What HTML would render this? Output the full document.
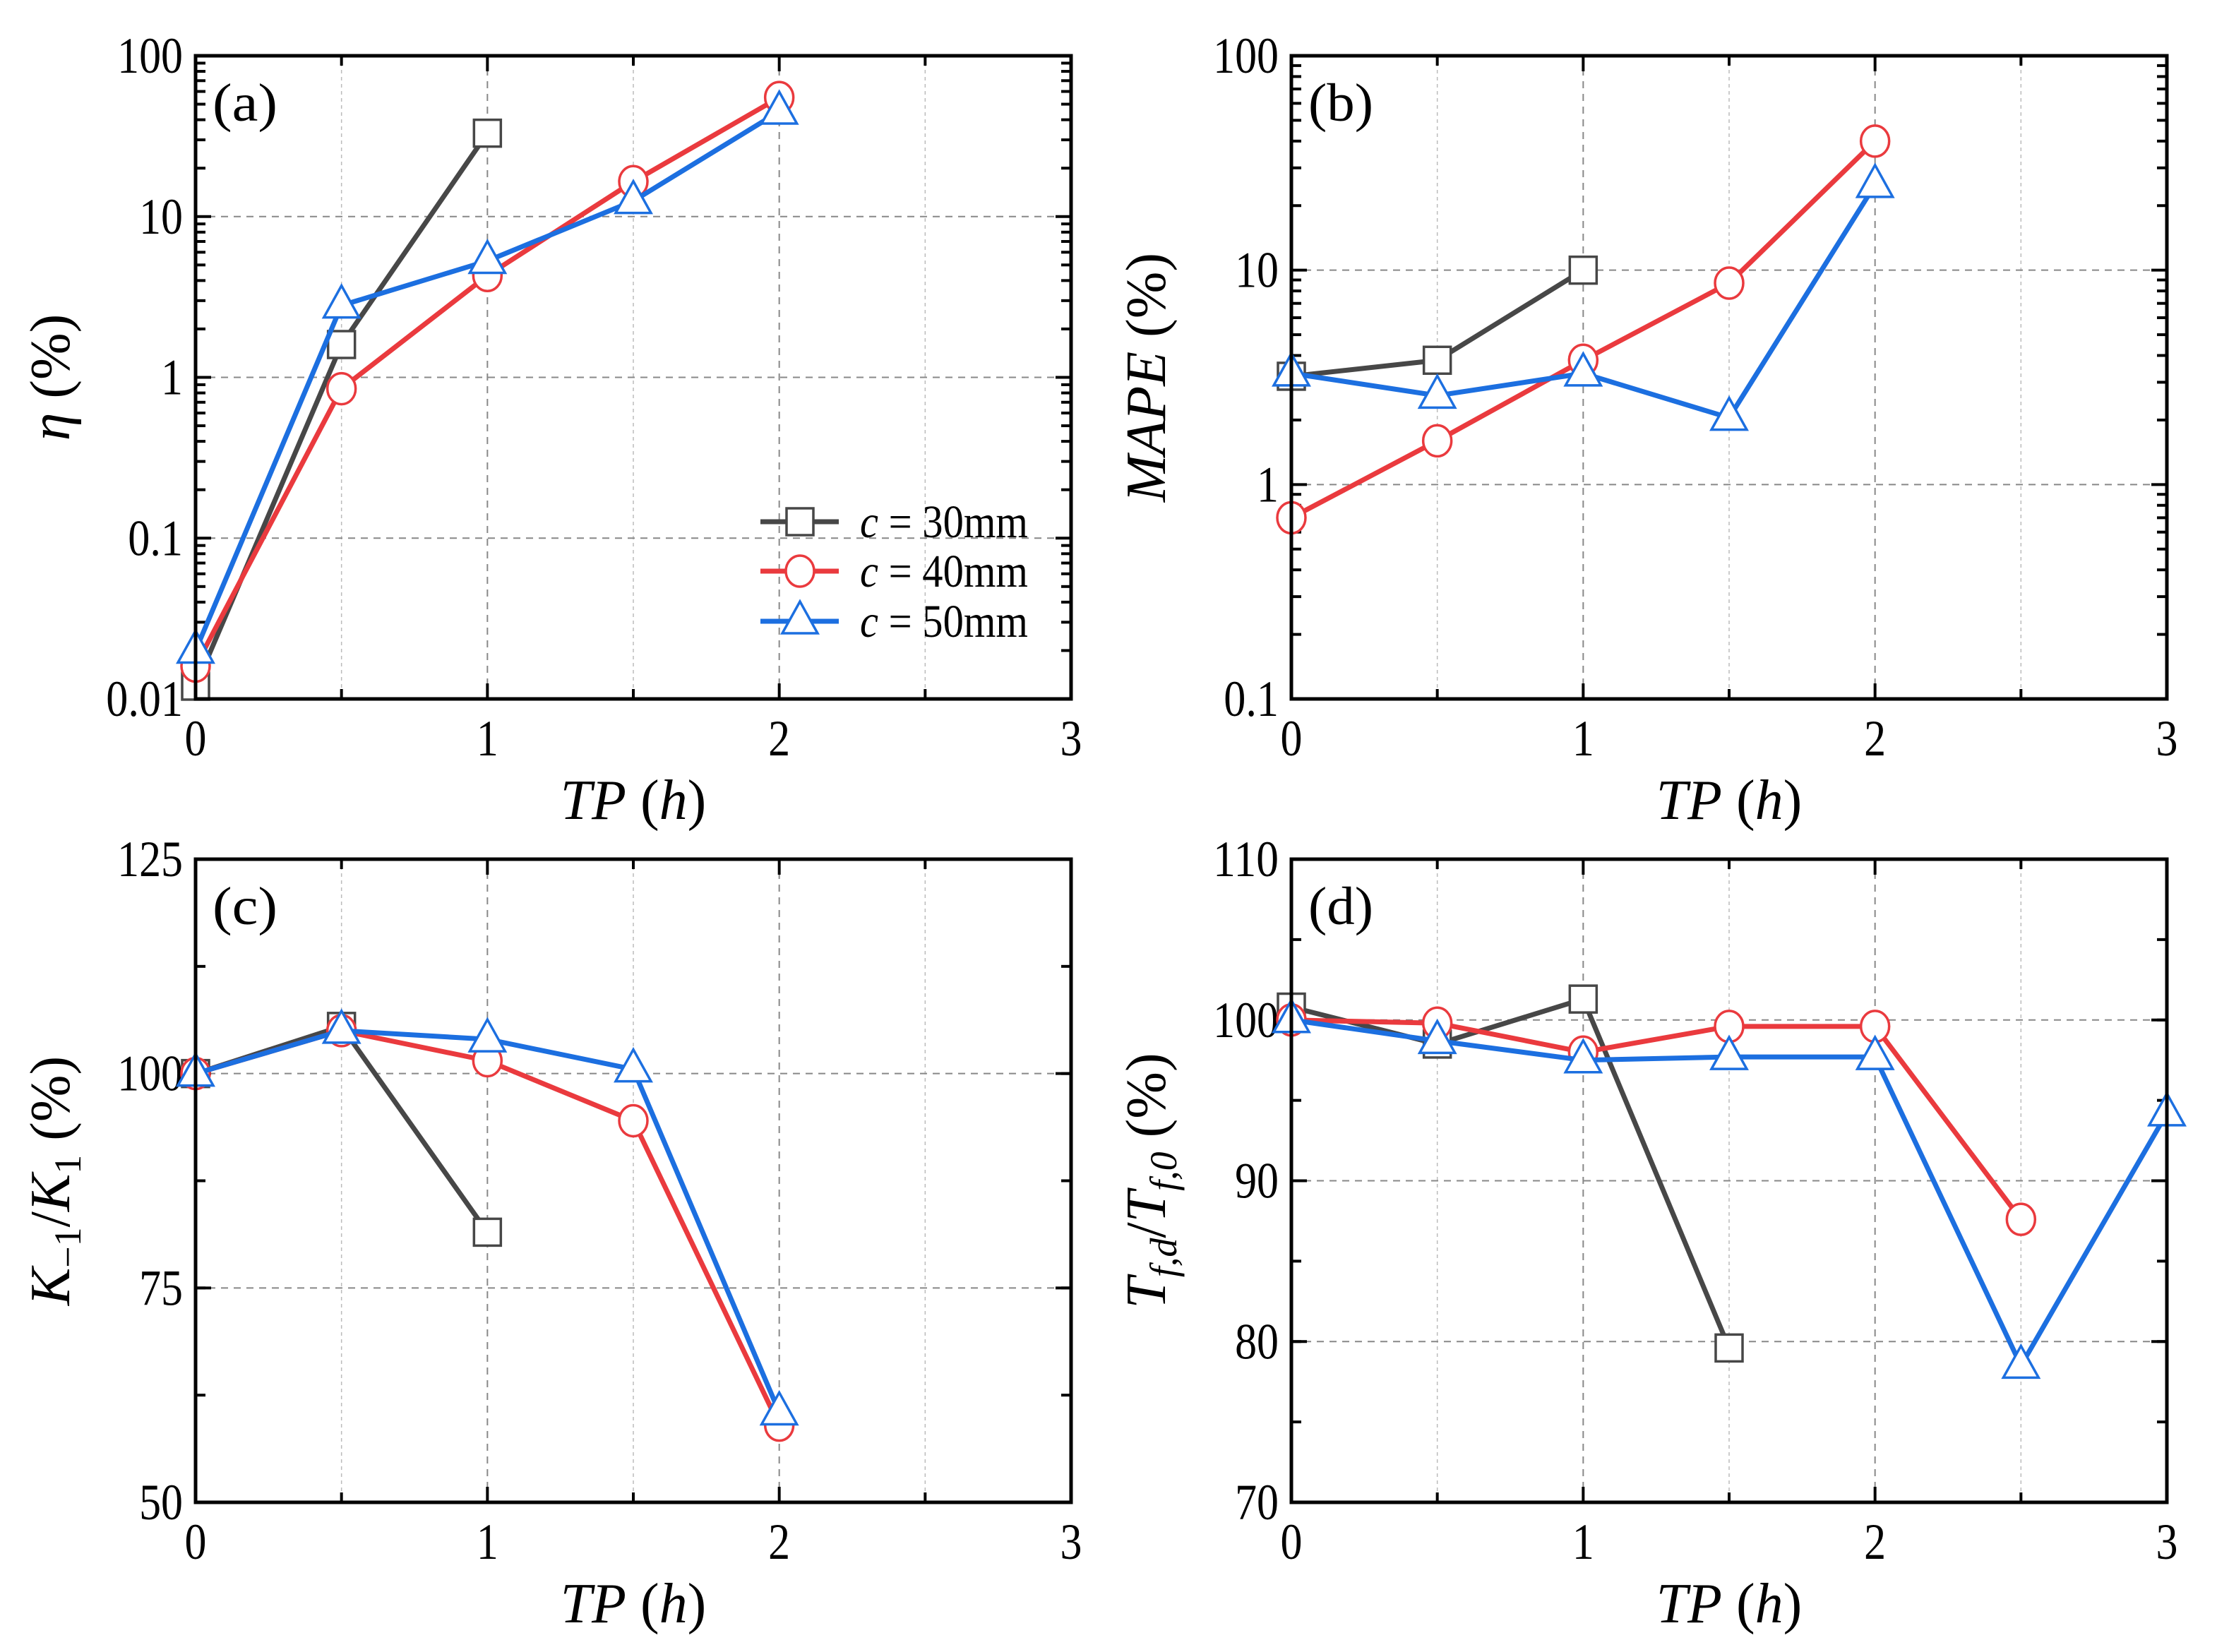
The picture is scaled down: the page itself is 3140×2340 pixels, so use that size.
<!DOCTYPE html>
<html><head><meta charset="utf-8"><style>
html,body{margin:0;padding:0;background:#fff;}
svg{display:block;font-family:"Liberation Serif",serif;}
</style></head><body>
<svg id="fig" width="3140" height="2340" viewBox="0 0 3140 2340" xmlns="http://www.w3.org/2000/svg"></svg>
<script>
const seriesNames = ["c = 30mm","c = 40mm","c = 50mm"];
const colors = ["#474747","#ea3a3e","#1c6fe0"];
// panel a
const aX30=[0,0.5,1], aY30=[0.012,1.6,33];
const aX40=[0,0.5,1,1.5,2], aY40=[0.016,0.85,4.3,16.5,55];
const aX50=[0,0.5,1,1.5,2], aY50=[0.02,2.8,5.3,12.5,45];
// panel b
const bX30=[0,0.5,1], bY30=[3.2,3.8,10];
const bX40=[0,0.5,1,1.5,2], bY40=[0.7,1.6,3.8,8.7,40];
const bX50=[0,0.5,1,1.5,2], bY50=[3.3,2.6,3.3,2.05,25];
// panel c
const cX30=[0,0.5,1], cY30=[100,105.5,81.5];
const cX40=[0,0.5,1,1.5,2], cY40=[100,105,101.5,94.5,59];
const cX50=[0,0.5,1,1.5,2], cY50=[100,105,104,100.5,60.5];
// panel d
const dX30=[0,0.5,1,1.5], dY30=[100.8,98.5,101.3,79.6];
const dX40=[0,0.5,1,1.5,2,2.5], dY40=[100,99.8,98,99.6,99.6,87.6];
const dX50=[0,0.5,1,1.5,2,2.5,3], dY50=[100,98.7,97.5,97.7,97.7,78.5,94.2];
const xTicks=[0,1,2,3];
const aYTicks=["0.01","0.1","1","10","100"];
const bYTicks=["0.1","1","10","100"];
const cYTicks=["50","75","100","125"];
const dYTicks=["70","80","90","100","110"];

const NS="http://www.w3.org/2000/svg";
const svg=document.getElementById('fig');
function el(tag,attrs,parent){const e=document.createElementNS(NS,tag);for(const k in attrs)e.setAttribute(k,attrs[k]);(parent||svg).appendChild(e);return e;}
function tlen(s,fs){let w=0;for(const c of s)w+=(c==='.'?0.22:0.43)*fs;return w;}

function panel(id,L,T,W,H,log,ymin,ymax,yTicks,minorStep,series,label,ytitleFn,ytx){
  const g=el('g',{});
  
  
  const sx=v=>L+v/3*W;
  const sy=log?(v=>T+H-(Math.log10(v)-Math.log10(ymin))/(Math.log10(ymax)-Math.log10(ymin))*H)
             :(v=>T+H-(v-ymin)/(ymax-ymin)*H);
  for(let x=0.5;x<3;x+=0.5){
    const major=Math.abs(x-Math.round(x))<1e-6;
    const gl=el('line',{x1:sx(x),x2:sx(x),y1:T,y2:T+H,stroke:major?'#888':'#bbb','stroke-width':major?2:1.5,'stroke-dasharray':major?'10,8':'5,5'},g);
    
    
  }
  yTicks.forEach((t,i)=>{const v=parseFloat(t);
    if(i>0&&i<yTicks.length-1){const gl=el('line',{x1:L,x2:L+W,y1:sy(v),y2:sy(v),stroke:'#888','stroke-width':2,'stroke-dasharray':'10,8'},g);
      
      }
  });
  if(log){
    for(let d=Math.log10(ymin);d<Math.log10(ymax);d++){
      for(let k=2;k<10;k++){const y=sy(k*Math.pow(10,d));
        el('line',{x1:L,x2:L+14,y1:y,y2:y,stroke:'#000','stroke-width':4},g);
        el('line',{x1:L+W-14,x2:L+W,y1:y,y2:y,stroke:'#000','stroke-width':4},g);}
    }
  } else {
    for(let v=ymin+minorStep;v<ymax;v+=minorStep){const y=sy(v);
      el('line',{x1:L,x2:L+14,y1:y,y2:y,stroke:'#000','stroke-width':4},g);
      el('line',{x1:L+W-14,x2:L+W,y1:y,y2:y,stroke:'#000','stroke-width':4},g);}
  }
  yTicks.forEach(t=>{const y=sy(parseFloat(t));
    el('line',{x1:L,x2:L+22,y1:y,y2:y,stroke:'#000','stroke-width':4},g);
    el('line',{x1:L+W-22,x2:L+W,y1:y,y2:y,stroke:'#000','stroke-width':4},g);
    const tx=el('text',{x:L-18,y:y+24,'text-anchor':'end','font-size':72,textLength:tlen(t,72),lengthAdjust:'spacingAndGlyphs'},g);tx.textContent=t;
    
    
  });
  for(let x=0.5;x<3;x+=0.5){const X=sx(x);const len=Math.abs(x-Math.round(x))<1e-6?22:14;
    el('line',{x1:X,x2:X,y1:T+H-len,y2:T+H,stroke:'#000','stroke-width':4},g);
    el('line',{x1:X,x2:X,y1:T,y2:T+len,stroke:'#000','stroke-width':4},g);}
  xTicks.forEach(v=>{const tx=el('text',{x:sx(v),y:T+H+80,'text-anchor':'middle','font-size':72,textLength:tlen(String(v),72),lengthAdjust:'spacingAndGlyphs'},g);tx.textContent=v;
    
    });
  series.forEach((s,i)=>{
    const pts=s[0].map((x,j)=>sx(x)+','+sy(s[1][j])).join(' ');
    const pl=el('polyline',{points:pts,fill:'none',stroke:colors[i],'stroke-width':7,'stroke-linejoin':'round'},g);
    
    
    s[0].forEach((x,j)=>{const m=marker(i,sx(x),sy(s[1][j]),g);
      
      });
  });
  const fr=el('rect',{x:L,y:T,width:W,height:H,fill:'none',stroke:'#000','stroke-width':5},g);
  
  
  const pl=el('text',{x:L+24,y:T+92,'font-size':76,textLength:92,lengthAdjust:'spacingAndGlyphs'},g);pl.textContent=label;
  
  
  const xt=el('text',{x:L+W/2,y:T+H+170,'text-anchor':'middle','font-size':80},g);
  xt.innerHTML='<tspan font-style="italic">TP</tspan> (<tspan font-style="italic">h</tspan>)';
  
  
  const yt=el('text',{x:0,y:0,'text-anchor':'middle','font-size':80,transform:`translate(${ytx},${T+H/2}) rotate(-90)`},g);
  yt.innerHTML=ytitleFn;
  
  
}
function marker(i,x,y,g){
  if(i===0)return el('rect',{x:x-19,y:y-19,width:38,height:38,fill:'#fff',stroke:colors[0],'stroke-width':3.5},g);
  if(i===1)return el('ellipse',{cx:x,cy:y,rx:20,ry:22,fill:'#fff',stroke:colors[1],'stroke-width':3.5},g);
  return el('polygon',{points:`${x},${y-28} ${x-25},${y+17} ${x+25},${y+17}`,fill:'#fff',stroke:colors[2],'stroke-width':3.5},g);
}
const W=1240,H=911;
panel('a',277,79,W,H,true,0.01,100,aYTicks,0,[[aX30,aY30],[aX40,aY40],[aX50,aY50]],'(a)',
 '<tspan font-style="italic">η</tspan> (%)',98);
panel('b',1829,79,W,H,true,0.1,100,bYTicks,0,[[bX30,bY30],[bX40,bY40],[bX50,bY50]],'(b)',
 '<tspan font-style="italic">MAPE</tspan> (%)',1650);
panel('c',277,1217,W,H,false,50,125,cYTicks,12.5,[[cX30,cY30],[cX40,cY40],[cX50,cY50]],'(c)',
 '<tspan font-style="italic">K</tspan><tspan font-size="54" dy="16">−1</tspan><tspan dy="-16">/</tspan><tspan font-style="italic">K</tspan><tspan font-size="54" dy="16">1</tspan><tspan dy="-16"> (%)</tspan>',98);
panel('d',1829,1217,W,H,false,70,110,dYTicks,5,[[dX30,dY30],[dX40,dY40],[dX50,dY50]],'(d)',
 '<tspan font-style="italic">T</tspan><tspan font-size="54" font-style="italic" dy="16">f,d</tspan><tspan dy="-16">/</tspan><tspan font-style="italic">T</tspan><tspan font-size="54" font-style="italic" dy="16">f,0</tspan><tspan dy="-16"> (%)</tspan>',1650);
const lg=el('g',{});


const lys=[739,809,880];
seriesNames.forEach((n,i)=>{
  const e=el('g',{},lg);
  
  
  el('line',{x1:1077,x2:1188,y1:lys[i],y2:lys[i],stroke:colors[i],'stroke-width':7},e);
  marker(i,1133,lys[i],e);
  const t=el('text',{x:1218,y:lys[i]+22,'font-size':66,textLength:238,lengthAdjust:'spacingAndGlyphs'},e);
  t.innerHTML='<tspan font-style="italic">c</tspan> = '+n.split('= ')[1];
});
</script>
</body></html>
